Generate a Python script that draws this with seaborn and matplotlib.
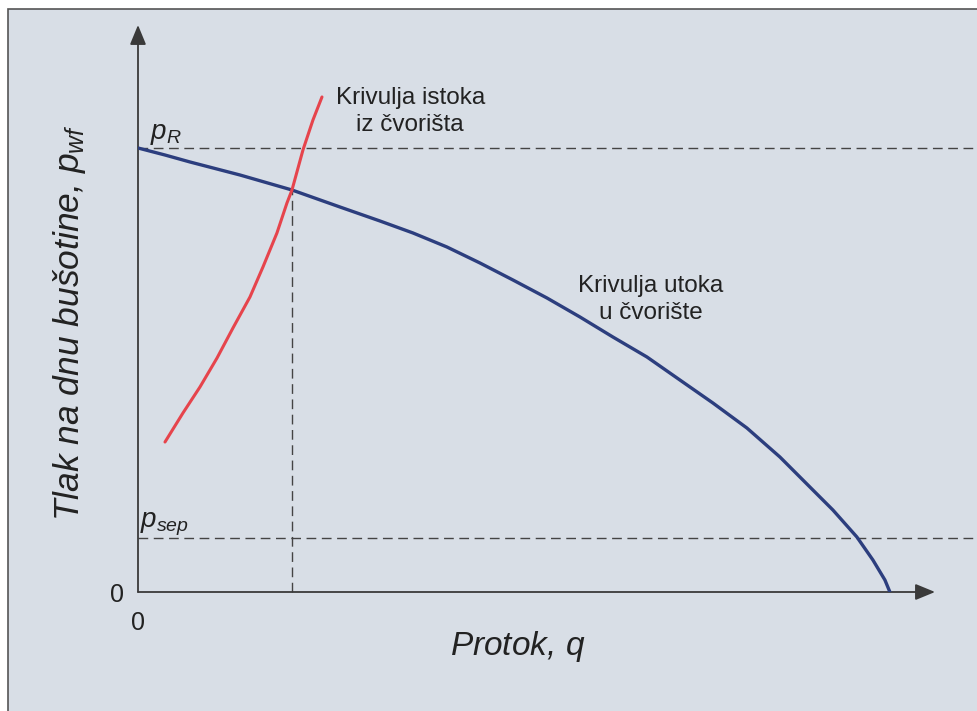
import matplotlib
matplotlib.use("Agg")
import matplotlib.pyplot as plt
import matplotlib.patches as patches
import seaborn as sns
import pandas as pd

# inflow curve (Krivulja utoka u čvorište), q in % of q_max, p in % of p_R
q_inflow = [0, 3.59, 6.91, 13.56, 20.48, 26.86, 32.18, 36.57, 41.09, 45.48, 49.87, 54.39,
            58.78, 63.16, 67.69, 72.07, 76.46, 80.98, 85.37, 89.76, 92.42, 95.61, 97.74,
            99.34, 100]
p_inflow = [100, 98.42, 96.85, 93.92, 90.54, 86.71, 83.56, 80.86, 77.70, 74.10, 70.27, 66.22,
            61.94, 57.43, 52.93, 47.75, 42.57, 36.94, 30.41, 22.97, 18.47, 12.39, 7.21,
            2.70, 0]

# outflow curve (Krivulja istoka iz čvorišta)
q_outflow = [3.59, 5.98, 8.24, 10.51, 12.63, 14.89, 16.62, 18.48, 19.81, 20.48, 21.94,
             23.27, 24.47]
p_outflow = [33.78, 40.32, 46.17, 52.70, 59.46, 66.44, 73.20, 80.86, 87.61, 90.54, 99.55,
             106.31, 111.49]

p_R = 100
p_sep = 12.2
q_op = 20.5
p_op = 90.5

inflow = pd.DataFrame({"q": q_inflow, "p": p_inflow})
outflow = pd.DataFrame({"q": q_outflow, "p": p_outflow})

sns.set_theme(style="white")
plt.rcParams["font.family"] = ["Liberation Sans", "DejaVu Sans"]
plt.rcParams["mathtext.fontset"] = "custom"
plt.rcParams["mathtext.it"] = "Liberation Sans:italic"
plt.rcParams["mathtext.rm"] = "Liberation Sans"

bg = "#d8dee6"
ink = "#3a3a3a"

fig = plt.figure(figsize=(9.77, 7.11), dpi=100, facecolor="white")
fig.patches.append(patches.Rectangle((8 / 977, -0.01), 1.0, (711 - 9) / 711 + 0.01,
                                     transform=fig.transFigure, facecolor=bg,
                                     edgecolor="#555555", lw=1.2, zorder=-10))

ax = fig.add_axes([138 / 977, (711 - 592) / 711, (935 - 138) / 977, (592 - 25) / 711])
ax.set_facecolor("none")
ax.set_xlim(0, 106.0)
ax.set_ylim(0, 127.7)
for s in ax.spines.values():
    s.set_visible(False)

# axes with arrows
arrow = dict(arrowstyle="-|>,head_length=0.8,head_width=0.33", color=ink, lw=1.3,
             mutation_scale=15, shrinkA=0, shrinkB=0)
ax.annotate("", xy=(1, 0), xytext=(0, 0), xycoords="axes fraction", arrowprops=arrow)
ax.annotate("", xy=(0, 1), xytext=(0, 0), xycoords="axes fraction", arrowprops=arrow)

# dashed guide lines
dash = dict(color="#444444", lw=1.0, ls=(0, (7, 4)), clip_on=False, zorder=1)
ax.plot([0, 112], [p_R, p_R], **dash)
ax.plot([0, 112], [p_sep, p_sep], **dash)
ax.plot([q_op, q_op], [0, p_op], **dash)

sns.lineplot(data=inflow, x="q", y="p", ax=ax, color="#2c3e7e", lw=2.4,
             estimator=None, sort=False, zorder=3,
             solid_joinstyle="round", solid_capstyle="round")
sns.lineplot(data=outflow, x="q", y="p", ax=ax, color="#e6444c", lw=2.2,
             estimator=None, sort=False, zorder=3,
             solid_joinstyle="round", solid_capstyle="round")

ax.set_xticks([0])
ax.set_xticklabels(["0"])
ax.set_yticks([0])
ax.set_yticklabels(["0"])
ax.tick_params(axis="x", length=0, pad=14, labelsize=18, labelcolor="#222222")
ax.tick_params(axis="y", length=0, pad=10, labelsize=18, labelcolor="#222222")

ax.set_xlabel("Protok, $\\it{q}$", fontsize=24, style="italic", color="#222222", va="center")
ax.xaxis.set_label_coords((518 - 138) / 797, (592 - 646) / 567)
ax.set_ylabel("Tlak na dnu bušotine, $p_{wf}$", fontsize=25.5, style="italic",
              color="#222222", va="center")
ax.yaxis.set_label_coords((70 - 138) / 797, (592 - 323) / 567)

ax.text(1.6, 102.0, "$p_R$", fontsize=20, color="#222222", va="baseline")
ax.text(0.3, 14.6, "$p_{sep}$", fontsize=20, color="#222222", va="baseline")

ax.text(36.2, 108.3, "Krivulja istoka\niz čvorišta", fontsize=17.5, color="#222222",
        ha="center", va="center", multialignment="center", linespacing=1.3)
ax.text(68.2, 65.8, "Krivulja utoka\nu čvorište", fontsize=17.5, color="#222222",
        ha="center", va="center", multialignment="center", linespacing=1.3)

fig.savefig("out.png", dpi=100, facecolor=fig.get_facecolor())
